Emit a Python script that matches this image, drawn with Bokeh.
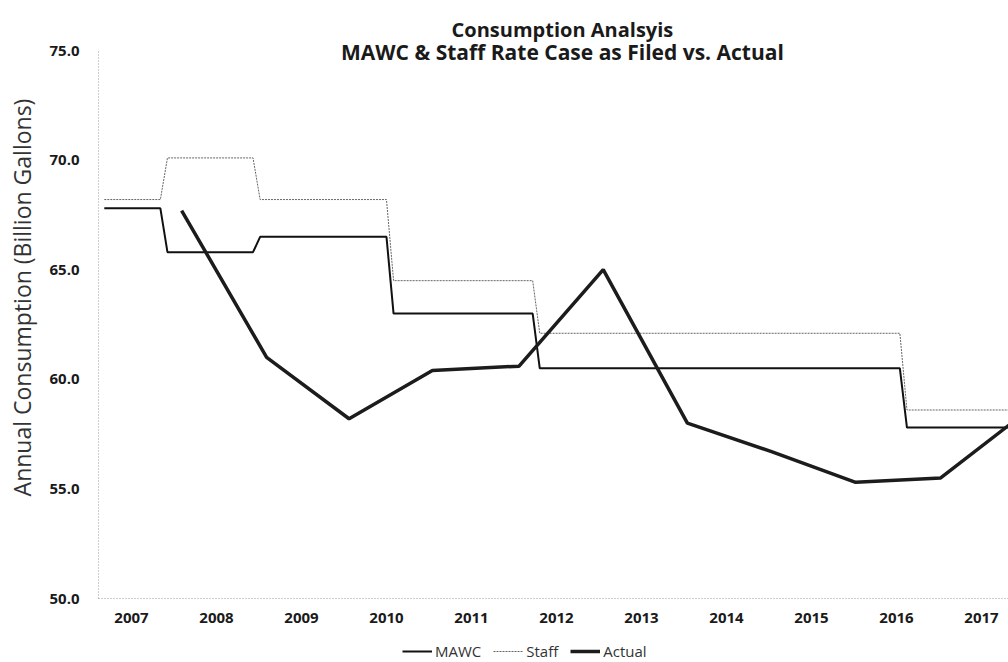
import math
from bokeh.plotting import figure
from bokeh.models import (Range1d, FixedTicker, PrintfTickFormatter, Legend,
                          LegendItem, Label)
from bokeh.embed import file_html
from bokeh.resources import INLINE

# ---------------- data ----------------
year_ticks = [2007, 2008, 2009, 2010, 2011, 2012, 2013, 2014, 2015, 2016, 2017]
year_labels = ["2007", "2008", "2009", "2010", "2011", "2012", "2013", "2014", "2015", "2016", "2017"]
y_ticks = [50, 55, 60, 65, 70, 75]

# rate-case levels (billion gallons) and the fractional years at which each new level starts
series_start = 2006.68
series_end = 2017.40
change_years = [2007.34, 2008.43, 2010.00, 2011.72, 2016.04]
mawc_levels = [67.8, 65.8, 66.5, 63.0, 60.5, 57.8]
staff_levels = [68.2, 70.1, 68.2, 64.5, 62.1, 58.6]

actual_years = [2007.59, 2008.59, 2009.56, 2010.54, 2011.56, 2012.55,
                2013.54, 2014.53, 2015.52, 2016.52, 2017.52]
actual_values = [67.7, 61.0, 58.2, 60.4, 60.6, 65.0, 58.0, 56.7, 55.3, 55.5, 58.5]

title_line1 = "Consumption Analsyis"
title_line2 = "MAWC & Staff Rate Case as Filed vs. Actual"
y_title = "Annual Consumption (Billion Gallons)"


def step_series(levels, changes, start, end, ramp=1.0 / 12):
    xs, ys = [start], [levels[0]]
    for i, c in enumerate(changes):
        xs += [c, c + ramp]
        ys += [levels[i], levels[i + 1]]
    xs.append(end)
    ys.append(levels[-1])
    return xs, ys


mx, my = step_series(mawc_levels, change_years, series_start, series_end)
sx, sy = step_series(staff_levels, change_years, series_start, series_end)

FONT = "Open Sans"
Y_MIN, Y_MAX = 50, 75
X_MIN, X_MAX = 2006.612, 2017.318
PX_PER_UNIT = 21.92
PX_PER_YEAR = 85.0
Y_TOP = Y_MAX + 50 / PX_PER_UNIT      # room above the axis for the two-line title
Y_BOTTOM = Y_MIN - 64 / PX_PER_UNIT   # room below the axis for year labels and legend
X_LEFT = X_MIN - 98 / PX_PER_YEAR     # room left of the axis for tick labels and axis title

p = figure(width=1008, height=662, output_backend="svg", toolbar_location=None,
           x_range=Range1d(X_LEFT, X_MAX), y_range=Range1d(Y_BOTTOM, Y_TOP))
p.min_border_left = 0
p.min_border_right = 0
p.min_border_top = 0
p.min_border_bottom = 0
p.outline_line_color = None
p.background_fill_color = "white"
p.border_fill_color = "white"
p.xgrid.visible = False
p.ygrid.visible = False

r_mawc = p.line(mx, my, line_color="#111111", line_width=2)
r_staff = p.line(sx, sy, line_color="#666666", line_width=1, line_dash="2 1")
r_act = p.line(actual_years, actual_values, line_color="#1c1c1c", line_width=3.5)

# axes
p.xaxis.ticker = FixedTicker(ticks=year_ticks)
p.xaxis.major_label_overrides = {t: l for t, l in zip(year_ticks, year_labels)}
p.xaxis.fixed_location = Y_MIN
p.xaxis.bounds = (X_MIN, X_MAX)
p.yaxis.ticker = FixedTicker(ticks=y_ticks)
p.yaxis.formatter = PrintfTickFormatter(format="%.1f")
p.yaxis.fixed_location = X_MIN
p.yaxis.bounds = (Y_MIN, Y_MAX)
for ax in (p.xaxis, p.yaxis):
    ax.axis_line_color = "#9a9a9a"
    ax.axis_line_dash = "1 2"
    ax.axis_line_width = 1
    ax.major_tick_line_color = None
    ax.minor_tick_line_color = None
    ax.major_tick_out = 0
    ax.major_tick_in = 0
    ax.major_label_text_font = FONT
    ax.major_label_text_font_style = "bold"
    ax.major_label_text_font_size = "15px"
    ax.major_label_text_color = "#1a1a1a"
p.xaxis.major_label_standoff = 14
p.yaxis.major_label_standoff = 19

# y axis title (rotated)
p.add_layout(Label(x=X_MIN - 76 / PX_PER_YEAR, y=Y_MAX - 247 / PX_PER_UNIT, text=y_title,
                   angle=math.pi / 2, text_align="center", text_baseline="middle",
                   text_font=FONT, text_font_size="23px", text_color="#333333"))

# title (two centred lines)
for txt, yy, fs in ((title_line1, 75.96, "20px"), (title_line2, 74.91, "21px")):
    p.add_layout(Label(x=2012.07, y=yy, text=txt, text_align="center",
                       text_baseline="alphabetic", text_font=FONT,
                       text_font_style="bold", text_font_size=fs,
                       text_color="#1a1a1a"))

legend = Legend(items=[LegendItem(label="MAWC", renderers=[r_mawc]),
                       LegendItem(label="Staff", renderers=[r_staff]),
                       LegendItem(label="Actual", renderers=[r_act])],
                orientation="horizontal", location=(402, 1))
legend.border_line_color = None
legend.background_fill_alpha = 0
legend.margin = 0
legend.padding = 0
legend.spacing = 12
legend.glyph_width = 30
legend.glyph_height = 16
legend.label_height = 16
legend.label_standoff = 3
legend.label_text_font = FONT
legend.label_text_font_size = "15px"
legend.label_text_color = "#333333"
p.add_layout(legend)

open("out.html", "w").write(file_html(p, INLINE))
